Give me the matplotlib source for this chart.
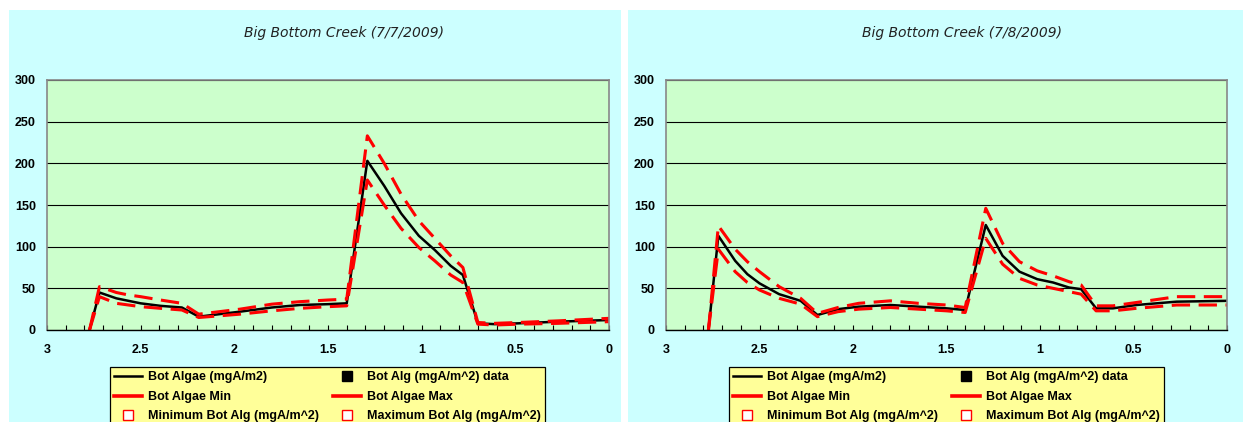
import numpy as np
import matplotlib
matplotlib.use("Agg")
import matplotlib.pyplot as plt
from matplotlib.patches import Rectangle
from matplotlib.ticker import MultipleLocator

# distance (km) along the reach, same model grid for both days
dist = [2.773, 2.72, 2.63, 2.565, 2.5, 2.395, 2.28, 2.19, 2.08, 1.97, 1.8, 1.65, 1.5,
        1.4, 1.29, 1.2, 1.11, 1.015, 0.93, 0.845, 0.78, 0.70, 0.61, 0.485, 0.27, 0.0]

# 7/7/2009
algae_0707 = [0, 45, 38, 35, 32, 29, 27, 16, 19, 22, 27, 30, 31,
              32, 203, 173, 140, 113, 96, 77, 66, 8, 7, 8, 10, 12]
algae_min_0707 = [0, 40, 32, 30, 28, 26, 24, 15, 17, 19, 23, 26, 28,
                  29, 180, 150, 122, 99, 83, 66, 57, 7, 6, 7, 8, 10]
algae_max_0707 = [0, 52, 45, 42, 40, 36, 32, 19, 22, 25, 31, 34, 36,
                  37, 233, 200, 163, 131, 110, 89, 75, 9, 8, 9, 11, 14]

# 7/8/2009
algae_0708 = [0, 113, 83, 67, 56, 43, 35, 18, 25, 28, 30, 28, 26,
              24, 126, 89, 70, 61, 57, 51, 49, 26, 26, 30, 34, 35]
algae_min_0708 = [0, 97, 70, 57, 48, 38, 31, 16, 22, 25, 27, 25, 23,
                  21, 110, 79, 62, 54, 50, 46, 43, 23, 23, 26, 30, 30]
algae_max_0708 = [0, 125, 97, 82, 70, 52, 38, 20, 27, 32, 35, 32, 30,
                  27, 146, 104, 82, 71, 65, 58, 54, 29, 29, 33, 40, 40]

# observed data series are empty in this chart
obs_x, obs_y = [], []
obs_min_y, obs_max_y = [], []

titles = ["Big Bottom Creek (7/7/2009)", "Big Bottom Creek (7/8/2009)"]
labels = ["Bot Algae (mgA/m2)", "Bot Alg (mgA/m^2) data", "Bot Algae Min",
          "Bot Algae Max", "Minimum Bot Alg (mgA/m^2)", "Maximum Bot Alg (mgA/m^2)"]

W, H = 1243, 422
fig = plt.figure(figsize=(W / 100, H / 100), dpi=100)
fig.patch.set_facecolor("white")

# chart areas (pixel boxes converted to figure fraction)
for x0, x1 in [(9, 621), (628, 1243)]:
    fig.patches.append(Rectangle((x0 / W, 0), (x1 - x0) / W, (H - 10) / H,
                                 transform=fig.transFigure, facecolor="#CCFFFF",
                                 edgecolor="none", zorder=0))

panels = [
    (47, 609, 344, 110, algae_0707, algae_min_0707, algae_max_0707, titles[0]),
    (666, 1227, 962, 729, algae_0708, algae_min_0708, algae_max_0708, titles[1]),
]

for px0, px1, tx, lx, main, lo, hi, title in panels:
    ax = fig.add_axes([px0 / W, (H - 330) / H, (px1 - px0) / W, 250 / H])
    ax.set_facecolor("#CCFFCC")
    ax.set_zorder(2)

    ax.plot(dist, main, color="black", lw=1.8, label=labels[0])
    ax.plot(obs_x, obs_y, "s", color="black", ms=6.5, label=labels[1])
    ax.plot(dist, lo, color="red", lw=2.2, dashes=(6, 2.8), label=labels[2])
    ax.plot(dist, hi, color="red", lw=2.2, dashes=(6, 2.8), label=labels[3])
    ax.plot(obs_x, obs_min_y, "s", mfc="white", mec="red", ms=6.5, label=labels[4])
    ax.plot(obs_x, obs_max_y, "s", mfc="white", mec="red", ms=6.5, label=labels[5])

    ax.set_xlim(3, 0)
    ax.set_ylim(0, 300)
    ax.set_yticks(np.arange(0, 301, 50))
    ax.set_xticks([3, 2.5, 2, 1.5, 1, 0.5, 0])
    ax.set_xticklabels(["3", "2.5", "2", "1.5", "1", "0.5", "0"])
    ax.xaxis.set_minor_locator(MultipleLocator(0.1))
    ax.yaxis.grid(True, color="black", lw=0.8)
    ax.set_axisbelow(True)

    for s in ["left", "top", "right"]:
        ax.spines[s].set_color("#888888")
        ax.spines[s].set_linewidth(1.2)
    ax.spines["bottom"].set_color("black")
    ax.spines["bottom"].set_linewidth(1.0)

    ax.tick_params(axis="y", length=0, pad=8)
    ax.tick_params(axis="x", which="both", direction="in", length=3.5, width=0.8, pad=10)
    for t in ax.get_xticklabels() + ax.get_yticklabels():
        t.set_fontfamily("Liberation Sans")
        t.set_fontweight("bold")
        t.set_fontsize(9)

    fig.text(tx / W, (H - 33) / H, title, ha="center", va="center",
             fontsize=10, style="italic", color="#222222", family="DejaVu Sans")

    h, l = ax.get_legend_handles_labels()
    # ncol=2 fills column-wise
    order = [0, 2, 4, 1, 3, 5]
    leg = fig.legend([h[i] for i in order], [l[i] for i in order], ncol=2,
                     loc="upper left", mode="expand",
                     bbox_to_anchor=(lx / W, 0, 435 / W, (H - 367) / H),
                     borderaxespad=0,
                     prop={"family": "Liberation Sans", "weight": "bold", "size": 9},
                     handlelength=2.2, handletextpad=0.5, labelspacing=0.6,
                     borderpad=0.35, columnspacing=1.0, fancybox=False, framealpha=1)
    leg.get_frame().set_facecolor("#FFFF99")
    leg.get_frame().set_edgecolor("black")
    leg.get_frame().set_linewidth(0.9)
    # the Excel legend shows the min/max keys as short solid red bars
    for ln in leg.get_lines():
        if ln.get_color() == "red":
            ln.set_linestyle("-")
            ln.set_linewidth(2.6)

fig.savefig("out.png", dpi=100)
